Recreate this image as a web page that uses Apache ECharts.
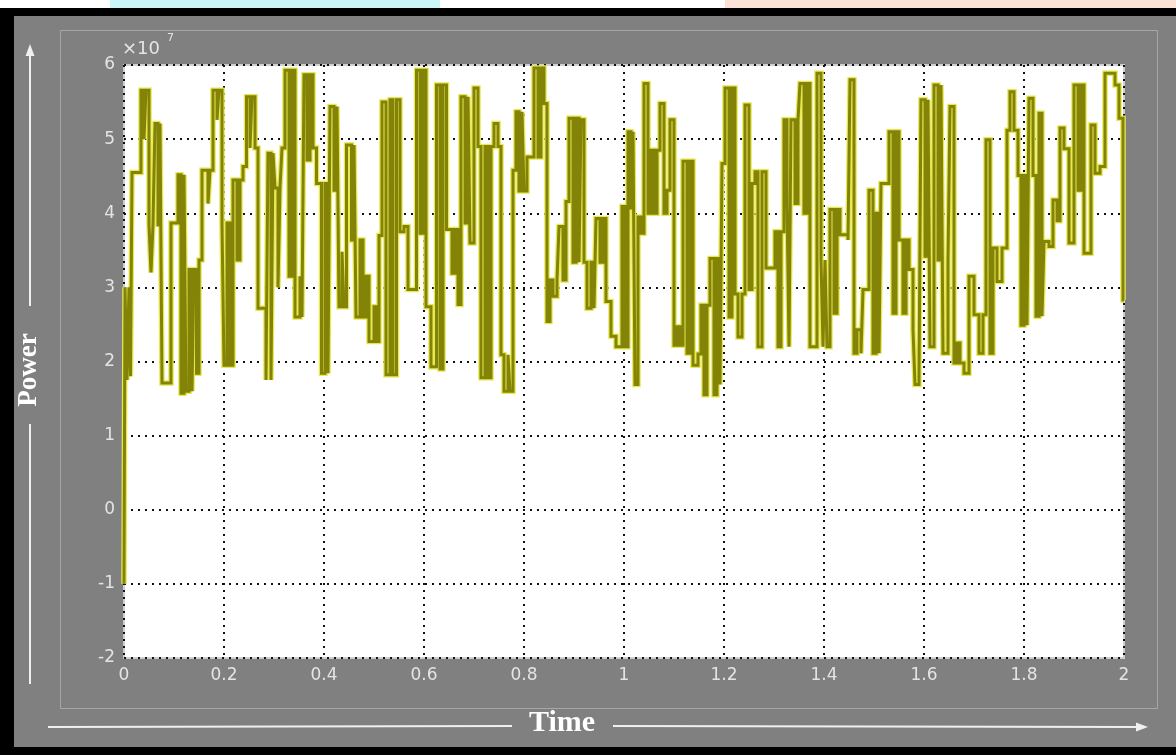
<!DOCTYPE html>
<html><head><meta charset="utf-8">
<script src="https://cdn.jsdelivr.net/npm/echarts@6/dist/echarts.min.js"></script>
<style>html,body{margin:0;padding:0;background:#000;}#c{width:1176px;height:755px;}</style>
</head><body><div id="c"></div>
<script>
// Time (s) of each step and held Power level (in units of 1e7)
const times = [
0,0.002,0.006,0.010,0.013,0.016,0.034,0.040,0.044,0.050,0.054,0.058,0.062,0.068,0.072,0.076,0.094,0.108,0.114,0.120,0.124,0.130,0.136,0.140,0.145,0.150,0.156,0.168,0.172,0.178,0.186,0.190,0.196,0.200,0.206,0.212,0.218,0.226,0.232,0.238,0.245,0.252,0.256,0.262,0.268,0.284,0.288,0.294,0.298,0.302,0.308,0.312,0.316,
0.322,0.330,0.336,0.342,0.352,0.356,0.360,0.366,0.372,0.378,0.385,0.395,0.402,0.408,0.412,0.420,0.426,0.430,0.436,0.440,0.445,0.455,0.460,0.464,0.472,0.478,0.484,0.490,0.500,0.505,0.510,0.516,0.524,0.532,0.538,0.545,0.552,0.560,0.568,0.585,0.592,0.598,0.604,0.614,0.625,0.632,0.638,0.645,
0.656,0.662,0.668,0.674,0.682,0.688,0.692,0.700,0.708,0.714,0.722,0.728,0.734,0.740,0.748,0.754,0.760,0.768,0.772,0.778,0.784,0.790,0.796,0.800,0.806,0.820,0.828,0.834,0.840,0.846,0.852,0.858,0.866,0.870,0.878,0.884,0.890,0.898,0.904,0.910,0.914,0.920,0.926,0.934,0.940,0.944,0.952,0.958,0.964,0.974,0.984,0.996,
1.002,1.008,1.014,1.018,1.022,1.028,1.034,1.040,1.048,1.054,1.060,1.066,1.072,1.080,1.086,1.092,1.100,1.106,1.112,1.118,1.126,1.132,1.138,1.148,1.154,1.160,1.166,1.172,1.180,1.186,1.192,1.196,1.202,1.210,1.216,1.222,1.228,1.236,1.242,1.250,1.256,1.262,1.268,1.276,1.284,1.302,1.308,1.314,1.320,1.326,
1.330,1.334,1.342,1.348,1.352,1.360,1.366,1.372,1.386,1.394,1.398,1.402,1.406,1.412,1.420,1.426,1.432,1.448,1.452,1.460,1.466,1.474,1.478,1.490,1.498,1.504,1.510,1.514,1.530,1.538,1.544,1.550,1.558,1.564,1.570,1.578,1.582,1.590,1.594,1.602,1.608,1.612,1.620,1.628,1.634,1.638,1.648,1.652,
1.660,1.666,1.672,1.680,1.690,1.700,1.710,1.718,1.724,1.732,1.738,1.746,1.756,1.766,1.772,1.780,1.788,1.794,1.800,1.806,1.810,1.818,1.824,1.830,1.836,1.840,1.850,1.858,1.866,1.872,1.880,1.890,1.900,1.908,1.914,1.920,1.934,1.942,1.952,1.962,1.982,1.990,1.998,2.000
];
const power = [
-1.0,3.0,1.75,3.0,1.8,4.55,5.66,5.0,5.66,3.85,3.2,3.85,5.21,3.82,5.21,1.71,3.87,4.52,1.57,4.52,1.6,3.24,1.6,3.24,1.84,3.37,4.58,4.13,4.58,5.66,5.26,5.66,3.87,1.95,3.87,1.95,4.45,3.37,4.45,4.63,5.57,4.88,5.57,4.88,2.72,1.75,4.81,1.75,4.81,4.34,3.0,4.34,4.88,
5.93,3.15,5.93,2.6,3.15,2.6,5.87,4.72,5.87,4.88,4.4,1.84,4.4,1.84,5.44,4.31,5.44,2.74,3.48,2.74,4.92,3.64,4.92,2.6,3.64,2.6,3.15,2.27,2.74,2.27,3.7,5.5,1.82,5.53,1.82,5.53,3.75,3.82,2.97,5.93,3.73,5.93,2.74,1.93,5.73,1.9,5.73,3.78,
3.19,3.78,2.77,5.57,3.87,5.57,3.6,5.69,4.9,1.78,4.9,1.78,4.9,5.21,4.9,2.09,1.6,2.09,1.6,4.58,5.37,4.3,5.37,4.3,4.76,5.96,4.76,5.96,5.48,2.54,3.1,2.88,3.1,3.82,3.1,4.16,5.28,3.34,5.28,3.34,5.26,3.34,2.72,3.34,2.72,3.93,3.34,3.93,2.81,2.34,2.2,4.09,
2.2,5.1,4.05,5.1,1.69,3.95,3.73,5.75,4.0,4.85,4.0,4.85,5.48,4.0,4.31,5.26,2.22,2.47,2.22,4.7,2.11,4.7,1.95,2.1,2.76,1.55,2.76,3.39,1.55,3.39,1.69,4.67,5.69,2.6,5.69,2.91,2.33,2.91,5.46,2.97,4.4,4.56,2.2,4.56,3.26,3.75,2.2,3.75,5.26,4.13,
2.2,5.26,4.13,5.26,5.75,4.0,5.75,2.2,5.89,3.37,2.2,3.37,2.2,4.05,2.65,4.05,3.71,3.64,5.8,2.11,2.43,2.11,2.97,4.31,2.11,4.0,2.11,4.4,5.1,2.65,5.1,3.64,2.65,3.64,3.24,2.43,1.69,1.8,5.53,3.42,5.53,2.2,5.73,3.37,5.73,2.11,3.37,5.44,
1.98,2.25,1.98,1.84,3.15,2.63,2.11,2.63,4.99,2.11,3.53,3.08,3.53,5.12,5.64,5.12,4.51,2.49,4.51,2.49,5.55,4.51,2.61,5.35,2.61,3.62,3.55,4.18,3.9,5.15,4.87,3.6,5.73,4.31,5.73,3.46,5.19,4.54,4.63,5.89,5.73,5.28,2.83,2.83
];
const xRange = [0, 2], xStep = 0.2;
const yRange = [-2, 6], yStep = 1;
const exponentLabel = '×10';
const exponentPower = '7';
const xName = 'Time';
const yName = 'Power';

const series = times.map((t, i) => [t, power[i]]);
const labelColor = '#e4e4e4';
const grid = { left: 124, top: 65, width: 1000, height: 593 };
const dotted = { color: '#111', width: 2, type: [2, 5] };

const chart = echarts.init(document.getElementById('c'));
chart.setOption({
  animation: false,
  backgroundColor: '#808080',
  grid: Object.assign({ show: true, backgroundColor: '#ffffff', borderColor: '#cfcfcf', borderWidth: 2 }, grid),
  xAxis: {
    type: 'value', min: xRange[0], max: xRange[1], interval: xStep,
    axisLine: { show: false }, axisTick: { show: false },
    axisLabel: { color: labelColor, fontSize: 17, fontFamily: 'DejaVu Sans', margin: 9,
      formatter: v => String(+v.toFixed(1)) },
    splitLine: { show: true, lineStyle: dotted }
  },
  yAxis: {
    type: 'value', min: yRange[0], max: yRange[1], interval: yStep,
    axisLine: { show: false }, axisTick: { show: false },
    axisLabel: { color: labelColor, fontSize: 17, fontFamily: 'DejaVu Sans', margin: 9 },
    splitLine: { show: true, lineStyle: dotted }
  },
  series: [
    { type: 'line', step: 'end', data: series, showSymbol: false, silent: true,
      lineStyle: { color: '#e8e852', width: 5.5, join: 'miter' }, z: 3 },
    { type: 'line', step: 'end', data: series, showSymbol: false, silent: true,
      lineStyle: { color: '#838308', width: 3, join: 'miter' }, z: 4 }
  ],
  graphic: [
    { type: 'rect', silent: true, shape: { x: 0, y: 0, width: 1176, height: 8 }, style: { fill: '#ffffff' } },
    { type: 'rect', silent: true, shape: { x: 110, y: 0, width: 330, height: 8 }, style: { fill: '#c9f6f6' } },
    { type: 'rect', silent: true, shape: { x: 725, y: 0, width: 451, height: 8 }, style: { fill: '#fbe1d6' } },
    { type: 'rect', silent: true, shape: { x: 0, y: 8, width: 1176, height: 8 }, style: { fill: '#000' } },
    { type: 'rect', silent: true, shape: { x: 0, y: 8, width: 14, height: 747 }, style: { fill: '#000' } },
    { type: 'rect', silent: true, shape: { x: 0, y: 747, width: 1176, height: 8 }, style: { fill: '#000' } },
    { type: 'rect', silent: true, shape: { x: 60.5, y: 30.5, width: 1097, height: 678 }, style: { fill: 'none', stroke: '#a6a6a6', lineWidth: 1 } },
    { type: 'line', silent: true, shape: { x1: 30, y1: 54, x2: 30, y2: 306 }, style: { stroke: '#f0f0f0', lineWidth: 2 } },
    { type: 'polygon', silent: true, shape: { points: [[30, 44], [25.5, 56], [34.5, 56]] }, style: { fill: '#f0f0f0' } },
    { type: 'line', silent: true, shape: { x1: 30, y1: 424, x2: 30, y2: 684 }, style: { stroke: '#f0f0f0', lineWidth: 2 } },
    { type: 'text', silent: true, x: 29, y: 370, rotation: Math.PI / 2,
      style: { text: yName, fill: '#ffffff', fontFamily: 'Liberation Serif', fontWeight: 'bold', fontSize: 27, align: 'center', verticalAlign: 'middle' } },
    { type: 'line', silent: true, shape: { x1: 48, y1: 727, x2: 512, y2: 726 }, style: { stroke: '#f0f0f0', lineWidth: 2 } },
    { type: 'text', silent: true, x: 562, y: 723,
      style: { text: xName, fill: '#ffffff', fontFamily: 'Liberation Serif', fontWeight: 'bold', fontSize: 30, align: 'center', verticalAlign: 'middle' } },
    { type: 'line', silent: true, shape: { x1: 613, y1: 726, x2: 1138, y2: 727 }, style: { stroke: '#f0f0f0', lineWidth: 2 } },
    { type: 'polygon', silent: true, shape: { points: [[1148, 727], [1136, 722.5], [1136, 731.5]] }, style: { fill: '#f0f0f0' } },
    { type: 'text', silent: true, x: 122, y: 49,
      style: { text: exponentLabel, fill: labelColor, fontFamily: 'DejaVu Sans', fontSize: 18, verticalAlign: 'middle' } },
    { type: 'text', silent: true, x: 167, y: 38,
      style: { text: exponentPower, fill: labelColor, fontFamily: 'DejaVu Sans', fontSize: 11, verticalAlign: 'middle' } }
  ]
});
</script>
</body></html>
